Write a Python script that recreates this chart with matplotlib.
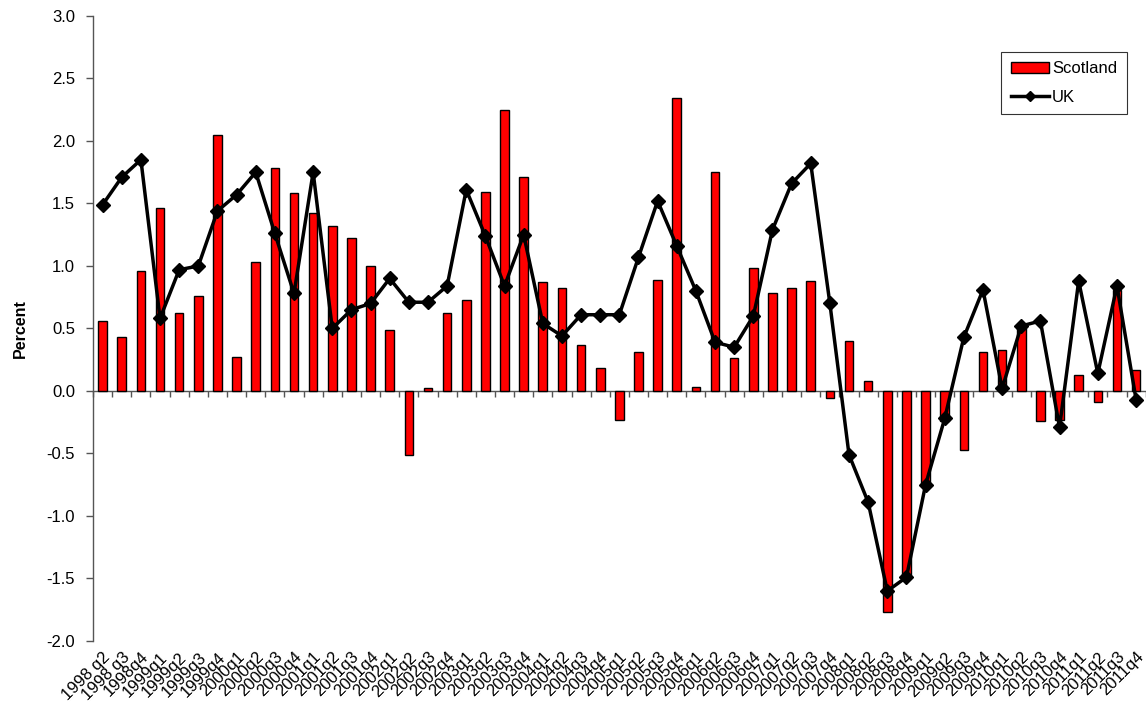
import matplotlib
matplotlib.use("Agg")
import matplotlib.pyplot as plt
import numpy as np

quarters = ["1998 q2", "1998 q3", "1998q4",
            "1999q1", "1999q2", "1999q3", "1999q4",
            "2000q1", "2000q2", "2000q3", "2000q4",
            "2001q1", "2001q2", "2001q3", "2001q4",
            "2002q1", "2002q2", "2002q3", "2002q4",
            "2003q1", "2003q2", "2003q3", "2003q4",
            "2004q1", "2004q2", "2004q3", "2004q4",
            "2005q1", "2005q2", "2005q3", "2005q4",
            "2006q1", "2006q2", "2006q3", "2006q4",
            "2007q1", "2007q2", "2007q3", "2007q4",
            "2008q1", "2008q2", "2008q3", "2008q4",
            "2009q1", "2009q2", "2009q3", "2009q4",
            "2010q1", "2010q2", "2010q3", "2010q4",
            "2011q1", "2011q2", "2011q3", "2011q4"]

scotland = [0.56, 0.43, 0.96,
            1.46, 0.62, 0.76, 2.05,
            0.27, 1.03, 1.78, 1.58,
            1.42, 1.32, 1.22, 1.00,
            0.49, -0.51, 0.02, 0.62,
            0.73, 1.59, 2.25, 1.71,
            0.87, 0.82, 0.37, 0.18,
            -0.23, 0.31, 0.89, 2.34,
            0.03, 1.75, 0.26, 0.98,
            0.78, 0.82, 0.88, -0.06,
            0.40, 0.08, -1.77, -1.48,
            -0.76, -0.24, -0.47, 0.31,
            0.33, 0.50, -0.24, -0.23,
            0.13, -0.09, 0.81, 0.17]

uk = [1.49, 1.71, 1.85,
      0.58, 0.97, 1.00, 1.44,
      1.57, 1.75, 1.26, 0.78,
      1.75, 0.50, 0.65, 0.70,
      0.90, 0.71, 0.71, 0.84,
      1.61, 1.24, 0.84, 1.25,
      0.54, 0.44, 0.61, 0.61,
      0.61, 1.07, 1.52, 1.16,
      0.80, 0.39, 0.35, 0.60,
      1.29, 1.66, 1.82, 0.70,
      -0.51, -0.89, -1.60, -1.49,
      -0.75, -0.22, 0.43, 0.81,
      0.02, 0.52, 0.56, -0.29,
      0.88, 0.14, 0.84, -0.07]

y_ticks = [-2.0, -1.5, -1.0, -0.5, 0.0, 0.5, 1.0, 1.5, 2.0, 2.5, 3.0]

plt.rcParams['font.family'] = ['Liberation Sans', 'DejaVu Sans']

fig = plt.figure(figsize=(11.46, 7.13), dpi=100)
ax = fig.add_axes([0.0812, 0.101, 0.9185, 0.8766])

x = np.arange(len(quarters))
bars = ax.bar(x, scotland, width=0.45, color='#FF0000', edgecolor='black',
              linewidth=1.0, label='Scotland', zorder=2)
line, = ax.plot(x, uk, color='black', linewidth=2.5, marker='D', markersize=7,
                label='UK', zorder=3)

ax.set_xlim(-0.5, len(quarters) - 0.5)
ax.set_ylim(-2.0, 3.0)
ax.set_yticks(y_ticks)
ax.set_yticklabels([f"{v:.1f}" for v in y_ticks], fontsize=12)
ax.tick_params(axis='y', direction='out', length=5, width=1, color='#555555',
               pad=8)

# x labels at the bottom, no spine
ax.set_xticks(x)
ax.set_xticklabels(quarters, rotation=45, ha='right', rotation_mode='anchor',
                   fontsize=12)
ax.tick_params(axis='x', length=0, pad=6)

for s in ['top', 'right', 'bottom']:
    ax.spines[s].set_visible(False)
ax.spines['left'].set_color('#555555')
ax.spines['left'].set_linewidth(1)

# zero axis line with category boundary ticks
zero_frac = (0 - (-2.0)) / (3.0 - (-2.0))
sec = ax.secondary_xaxis(zero_frac)
sec.set_xticks(np.arange(len(quarters) + 1) - 0.5)
sec.set_xticklabels([])
sec.tick_params(axis='x', direction='out', length=4, width=1, color='#555555')
sec.spines['bottom'].set_color('#555555')
sec.spines['bottom'].set_linewidth(1)

ax.set_ylabel('Percent', fontsize=11.5, fontweight='bold', labelpad=13)

leg = ax.legend([bars, line], ['Scotland', 'UK'],
                loc='upper right', bbox_to_anchor=(0.983, 0.927),
                bbox_transform=fig.transFigure, frameon=True, fancybox=False,
                fontsize=12, handlelength=2.3, handleheight=0.6,
                borderpad=0.55, labelspacing=0.8,
                handletextpad=0.2, borderaxespad=0, markerscale=0.8)
leg.get_frame().set_edgecolor('black')
leg.get_frame().set_linewidth(0.8)

fig.savefig('out.png', dpi=100)
